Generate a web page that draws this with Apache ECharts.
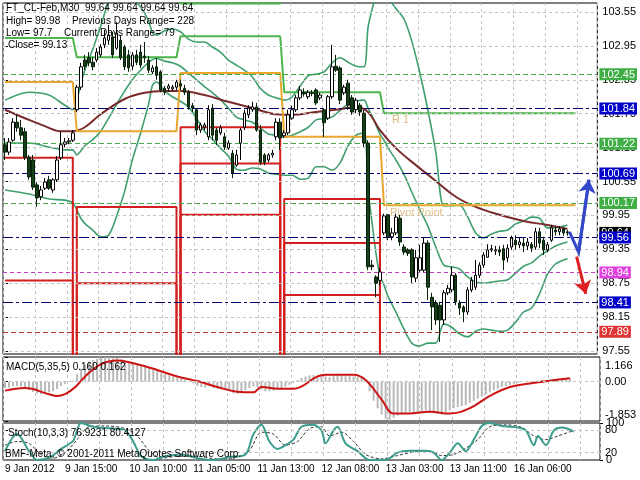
<!DOCTYPE html>
<html><head><meta charset="utf-8">
<script src="https://cdn.jsdelivr.net/npm/echarts@6/dist/echarts.min.js"></script>
<style>html,body{margin:0;padding:0;background:#fff}#c{width:640px;height:480px}</style>
</head><body><div id="c"></div>
<script>
// ---- data ----
const timeLabels = ['9 Jan 2012','9 Jan 15:00','10 Jan 10:00','11 Jan 05:00','11 Jan 13:00','12 Jan 08:00','13 Jan 03:00','13 Jan 11:00','16 Jan 06:00'];
const timeLabelBars = [0,15,31,47,63,79,95,111,127];
const priceTicks = [97.55,98.15,98.75,99.35,99.95,100.55,101.15,101.75,102.35,102.95,103.55];
// [open, close, low, high]
const candles = [
[101.20,101.07,100.93,101.32],[101.07,101.25,101.02,101.32],[101.28,101.60,101.25,101.67],[101.60,101.50,101.43,101.73],[101.50,101.37,101.28,101.64],
[101.43,100.98,100.93,101.50],[100.98,100.63,100.58,101.02],[100.93,100.45,100.40,101.02],[100.49,100.26,100.10,100.54],[100.28,100.40,100.22,100.47],
[100.43,100.54,100.40,100.61],[100.58,100.43,100.40,100.65],[100.40,100.58,100.35,100.61],[100.58,100.93,100.54,101.00],[100.97,101.20,100.93,101.43],
[101.21,101.25,101.16,101.32],[101.25,101.27,101.21,101.32],[101.28,101.41,101.25,101.46],[101.82,102.22,101.78,102.26],[102.22,102.58,102.17,102.65],
[102.70,102.59,102.52,102.79],[102.74,102.65,102.59,102.84],[102.66,102.58,102.52,102.75],[102.70,102.84,102.66,102.91],[102.79,102.93,102.75,102.98],
[102.97,103.09,102.91,103.23],[103.05,103.14,102.97,103.32],[103.11,102.79,102.74,103.20],[102.91,103.18,102.88,103.37],[103.05,102.74,102.70,103.14],
[102.93,102.58,102.52,102.97],[102.79,102.56,102.49,102.88],[102.59,102.79,102.52,102.84],[102.79,102.66,102.61,102.88],[102.84,102.61,102.56,102.97],
[102.77,102.74,102.65,103.02],[102.70,102.52,102.47,102.77],[102.49,102.56,102.45,102.61],[102.58,102.43,102.35,102.74],[102.49,102.17,102.13,102.52],
[102.20,102.13,102.08,102.24],[102.20,102.24,102.13,102.28],[102.19,102.22,102.15,102.26],[102.22,102.31,102.17,102.35],[102.28,102.24,102.17,102.35],
[102.20,102.13,102.08,102.26],[102.13,101.87,101.82,102.17],[101.89,101.85,101.78,101.94],[101.82,101.46,101.37,101.85],[101.46,101.55,101.41,101.59],
[101.51,101.55,101.46,101.59],[101.34,101.82,101.28,101.90],[101.85,101.37,101.28,101.92],[101.46,101.28,101.20,101.50],[101.41,101.50,101.37,101.55],
[101.34,101.16,101.11,101.41],[101.14,101.23,101.11,101.28],[101.05,100.70,100.61,101.11],[100.84,101.02,100.81,101.11],[101.23,101.46,100.93,101.50],
[101.51,101.76,101.46,101.82],[101.73,101.85,101.67,101.90],[101.82,101.87,101.78,101.96],[101.87,101.46,101.43,101.94],[101.46,100.89,100.84,101.55],
[101.02,100.89,100.84,101.05],[100.93,101.02,100.89,101.05],[101.02,101.05,100.97,101.11],[101.34,101.60,101.28,101.67],[101.60,101.32,101.11,101.67],
[101.36,101.41,101.32,101.46],[101.41,101.73,101.37,101.82],[101.67,101.82,101.64,101.89],[101.82,102.03,101.78,102.08],[102.03,102.17,101.99,102.24],
[102.13,102.10,102.05,102.20],[102.05,102.13,102.01,102.17],[102.12,102.11,102.06,102.17],[102.17,101.94,101.90,102.20],[102.03,102.08,101.99,102.12],
[101.82,101.59,101.34,101.85],[101.67,102.05,101.64,102.08],[102.05,102.58,102.01,102.97],[102.59,102.52,102.49,102.79],[102.56,101.99,101.92,102.59],
[102.12,102.22,102.08,102.26],[102.29,101.90,101.82,102.35],[102.03,101.78,101.73,102.08],[101.82,101.99,101.76,102.03],[101.90,101.78,101.71,101.94],
[101.76,101.23,101.16,101.82],[101.23,99.04,98.98,101.28],[99.07,99.04,98.98,99.16],[98.86,98.75,98.50,98.89],[98.80,98.95,98.72,99.02],
[99.64,99.94,99.60,99.98],[99.96,99.57,99.51,99.97],[99.57,99.64,99.51,99.73],[99.64,99.92,99.60,99.98],[99.90,99.48,99.41,99.96],
[99.39,99.30,99.25,99.44],[99.34,99.28,99.23,99.37],[99.34,98.86,98.75,99.37],[98.84,99.20,98.77,99.34],[98.98,99.20,98.95,99.43],
[98.98,99.46,98.95,99.55],[99.46,98.68,98.45,99.51],[98.50,98.33,97.92,98.58],[98.40,98.10,98.01,98.45],[98.36,98.10,97.71,98.42],
[98.10,98.58,98.01,98.63],[98.58,98.66,98.54,98.72],[98.63,98.89,98.59,99.04],[98.89,98.42,98.36,98.93],[98.40,98.31,98.19,98.45],
[98.33,98.24,98.06,98.36],[98.24,98.63,98.19,98.68],[98.63,98.80,98.59,98.86],[98.68,98.89,98.63,99.16],[98.89,99.07,98.84,99.12],
[99.07,99.25,99.02,99.30],[99.21,99.34,99.20,99.44],[99.34,99.36,99.30,99.43],[99.32,99.34,99.25,99.41],[99.34,99.30,99.23,99.41],
[99.36,99.16,98.98,99.43],[99.20,99.37,99.12,99.44],[99.39,99.55,99.34,99.59],[99.51,99.43,99.34,99.60],[99.43,99.48,99.37,99.55],
[99.46,99.41,99.30,99.55],[99.41,99.48,99.34,99.55],[99.44,99.37,99.30,99.48],[99.39,99.66,99.34,99.73],[99.66,99.46,99.37,99.73],
[99.51,99.34,99.25,99.57],[99.34,99.43,99.30,99.48],[99.51,99.73,99.48,99.78],[99.69,99.66,99.59,99.76],[99.66,99.71,99.60,99.76],
[99.71,99.64,99.59,99.74],[99.66,99.64,99.59,99.69]
];
const maLine = [[0,101.82],[5,101.67],[10,101.53],[14,101.44],[17,101.44],[20,101.51],[24,101.74],[30,102.01],[35,102.12],[40,102.15],[44,102.15],[50,102.08],[56,101.96],[62,101.85],[68,101.74],[72,101.73],[78,101.78],[84,101.83],[88,101.87],[91,101.78],[94,101.46],[98,101.14],[103,100.84],[108,100.56],[113,100.28],[118,100.10],[124,99.96],[130,99.85],[136,99.78],[141,99.71]];
const bbUpper = [[0,101.99],[6,102.13],[11,102.08],[15,101.90],[17,101.82],[18,101.99],[19,102.28],[20,102.52],[22,102.89],[24,103.30],[26,103.73],[28,103.92],[30,103.92],[32,103.78],[34,103.64],[36,103.39],[37,103.18],[38,103.14],[40,103.22],[42,103.25],[44,103.20],[46,103.07],[48,103.02],[50,103.02],[52,102.93],[54,102.84],[56,102.70],[58,102.61],[60,102.52],[62,102.40],[64,102.20],[66,102.08],[68,102.03],[70,101.99],[72,102.05],[74,102.24],[76,102.42],[78,102.45],[80,102.49],[82,102.65],[84,102.74],[86,102.66],[88,102.59],[90,102.58],[91,103.27],[92,103.59],[93,103.82],[94,103.90],[95,103.85],[96,103.80],[98,103.61],[100,103.43],[102,103.03],[104,102.47],[106,101.82],[108,101.07],[110,100.12],[112,100.12],[114,100.13],[116,99.92],[118,99.64],[120,99.55],[122,99.62],[124,99.67],[126,99.69],[128,99.80],[130,99.85],[132,99.92],[134,99.90],[136,99.73],[138,99.73],[140,99.76],[141,99.78]];
const bbMiddle = [[0,101.23],[6,101.23],[11,101.16],[15,101.11],[17,101.11],[18,101.02],[19,101.09],[20,101.18],[22,101.29],[24,101.44],[26,101.67],[28,101.92],[30,102.15],[32,102.36],[34,102.52],[36,102.66],[38,102.73],[40,102.68],[42,102.65],[44,102.59],[46,102.47],[48,102.35],[50,102.23],[52,102.12],[54,102.00],[56,101.85],[58,101.69],[60,101.64],[62,101.60],[64,101.50],[66,101.39],[68,101.37],[70,101.34],[72,101.37],[74,101.43],[76,101.51],[78,101.64],[80,101.66],[82,101.69],[84,101.81],[86,101.92],[88,101.97],[90,101.99],[91,101.85],[92,101.71],[93,101.55],[94,101.39],[95,101.28],[96,101.15],[98,100.93],[100,100.68],[102,100.36],[104,100.05],[106,99.76],[108,99.39],[110,99.07],[112,99.04],[114,99.00],[116,98.86],[118,98.77],[120,98.75],[122,98.77],[124,98.79],[126,98.81],[128,98.93],[130,99.05],[132,99.11],[134,99.23],[136,99.32],[138,99.41],[140,99.46],[141,99.48]];
const bbLower = [[0,100.40],[6,100.33],[11,100.24],[15,100.22],[17,100.17],[18,100.05],[19,99.90],[20,99.81],[22,99.69],[24,99.57],[26,99.60],[28,99.94],[30,100.38],[32,100.95],[34,101.41],[36,101.92],[37,102.26],[38,102.31],[40,102.15],[42,102.05],[44,101.97],[46,101.87],[48,101.67],[50,101.44],[52,101.30],[54,101.14],[56,101.00],[58,100.77],[60,100.75],[62,100.79],[64,100.77],[66,100.70],[68,100.68],[70,100.66],[72,100.66],[74,100.59],[76,100.61],[78,100.81],[80,100.81],[82,100.75],[84,100.88],[86,101.18],[88,101.37],[90,101.41],[91,100.43],[92,99.83],[93,99.28],[94,98.88],[95,98.72],[96,98.52],[98,98.24],[100,97.94],[102,97.69],[104,97.64],[106,97.69],[108,97.69],[110,98.03],[112,97.97],[114,97.85],[116,97.80],[118,97.90],[120,97.94],[122,97.92],[124,97.90],[126,97.92],[128,98.06],[130,98.24],[132,98.31],[134,98.56],[136,98.91],[138,99.09],[140,99.16],[141,99.18]];
const pivotDayStart = [0,18,44,70,95];
const pivotLastBar = 143;
const levelR2 = [104.40,104.40,103.70,104.80,104.80];
const levelR1 = [103.09,102.75,103.12,102.13,101.76];
const levelP  = [102.31,101.44,102.47,101.34,100.13];
const levelS1 = [100.97,100.10,101.51,100.24,97.00];
const levelS2 = [98.80,98.75,100.87,99.46,96.00];
const levelS3 = [96.50,96.80,99.96,98.54,95.00];
const lineLevels = [102.45,101.84,101.22,100.69,100.17,99.64,99.56,98.94,98.41,97.89];
const lineKinds  = ['g','b','g','b','g','k','b','m','b','r'];
const blueArrowPath = [[141.5,99.66],[143.8,99.30],[146.4,100.58]];
const redArrowPath = [[143.3,99.22],[145.6,98.56]];
const macdHist = [
-0.30,-0.28,-0.22,-0.20,-0.22,-0.30,-0.40,-0.48,-0.55,-0.58,
-0.55,-0.50,-0.45,-0.35,-0.20,-0.10,-0.02,0.05,0.35,0.60,
0.80,0.95,1.02,1.08,1.12,1.16,1.15,1.10,1.12,1.05,
0.98,0.92,0.88,0.82,0.78,0.72,0.65,0.58,0.52,0.42,
0.35,0.30,0.25,0.20,0.15,0.10,0.02,-0.08,-0.20,-0.25,
-0.28,-0.22,-0.30,-0.32,-0.35,-0.40,-0.45,-0.55,-0.58,-0.50,
-0.40,-0.30,-0.22,-0.25,-0.38,-0.45,-0.45,-0.42,-0.30,-0.32,
-0.25,-0.15,-0.05,0.08,0.18,0.25,0.30,0.32,0.30,0.28,
0.25,0.22,0.35,0.38,0.35,0.30,0.28,0.25,0.22,0.20,
0.10,-0.45,-0.90,-1.25,-1.55,-1.75,-1.85,-1.70,-1.60,-1.55,
-1.50,-1.45,-1.50,-1.45,-1.40,-1.35,-1.40,-1.45,-1.50,-1.55,
-1.45,-1.35,-1.25,-1.20,-1.15,-1.10,-1.00,-0.90,-0.80,-0.70,
-0.60,-0.50,-0.40,-0.32,-0.25,-0.20,-0.15,-0.10,-0.06,-0.02,
0.00,0.02,0.03,0.06,0.08,0.08,0.10,0.12,0.14,0.15,
0.16,0.16];
const macdSignal = [[0,-0.42],[5,-0.30],[11,-0.59],[13,-0.67],[17,-0.34],[20,0.25],[24,0.83],[28,1.0],[31,0.92],[36,0.67],[43,0.25],[48,0.03],[53,-0.25],[58,-0.47],[62,-0.5],[64,-0.25],[68,-0.33],[72,-0.33],[78,0.25],[80,0.33],[87,0.33],[90,0.08],[94,-0.84],[97,-1.5],[100,-1.5],[106,-1.42],[111,-1.5],[116,-1.25],[121,-0.67],[126,-0.25],[131,-0.08],[141,0.16]];
const macdTicks = [-1.853,0,1.166];
const stochMain = [[0,24],[3,70],[6,24],[8,0],[11,6],[14,30],[17,52],[19,100],[22,90],[27,85],[30,80],[32,50],[34,10],[37,0],[40,10],[44,15],[48,5],[52,0],[56,8],[60,15],[62,70],[64,95],[66,50],[68,30],[70,40],[72,55],[74,90],[77,95],[79,80],[80,45],[82,80],[83,90],[85,45],[88,24],[91,0],[95,0],[98,20],[101,25],[105,25],[107,20],[109,0],[111,20],[113,45],[115,24],[117,55],[119,92],[121,100],[124,92],[128,88],[130,80],[132,40],[133,65],[135,40],[137,80],[139,88],[142,77]];
const stochSignal = [[0,40],[3,50],[6,45],[9,15],[12,5],[15,20],[18,55],[21,90],[25,92],[30,85],[33,65],[36,25],[39,5],[43,10],[48,10],[53,3],[58,8],[61,25],[64,75],[67,70],[70,40],[73,50],[76,85],[79,90],[81,65],[84,75],[87,50],[90,15],[94,3],[98,12],[102,22],[106,24],[109,12],[112,15],[115,32],[118,55],[121,90],[125,95],[129,88],[132,65],[135,55],[138,65],[142,80]];
const stochLevelTicks = [20,80];
const stochEndTicks = [0,100];

// ---- build ----
const NCAT = 149;
const cats = Array.from({length: NCAT}, (_, i) => String(i));
const DROP = 90;
function stepPoints(levels, drop) {
  const pts = [];
  for (let d = 0; d < levels.length; d++) {
    const s = pivotDayStart[d];
    const last = d === levels.length - 1;
    const e = last ? pivotLastBar : pivotDayStart[d + 1] - 1;
    pts.push([s, levels[d]], [e, levels[d]]);
    if (drop && !last) pts.push([e, DROP], [pivotDayStart[d + 1], DROP]);
  }
  return pts;
}
const kindColor = {g:'#3fae45', b:'#0000c8', m:'#e040e0', r:'#e03535', k:'#000000'};
const kindLine = {
  g:{color:'#45a84a', type:[5,3], width:1},
  b:{color:'#00006e', type:[10,3,3,3], width:1},
  m:{color:'#c040c0', type:[4,3], width:1},
  r:{color:'#b83030', type:[5,3], width:1}
};
const rich = {};
Object.keys(kindColor).forEach(k => { rich[k] = {backgroundColor: kindColor[k], color:'#fff', fontSize:11, padding:[1,2,0,2], fontFamily:'Liberation Sans'}; });
function nearestIdx(arr, v) { let b = 0; arr.forEach((x, i) => { if (Math.abs(x - v) < Math.abs(arr[b] - v)) b = i; }); return b; }

const gridLine = {color:'#c4c4c4', type:[3,3], width:1};
const FONT = 'Liberation Sans';
const catAxis = (g) => ({type:'category', gridIndex:g, position:'bottom', data:cats, boundaryGap:true, axisLine:{show:false}, axisTick:{show:false}, axisLabel:{show:false}, splitLine:{show:true, interval:7, lineStyle:gridLine}});
const valAxis = (g) => ({type:'value', gridIndex:g, position:'bottom', min:-0.5, max:NCAT-0.5, show:false});
const lineSeg = (path) => [path[path.length - 2], path[path.length - 1]];
const stochAxis = (ticks, ofs) => ({type:'value', gridIndex:2, position:'right', min:0, max:100, axisLine:{show:false}, splitLine:{show:false},
  axisTick:{show:true, customValues:ticks, length:3, lineStyle:{color:'#000'}},
  axisLabel:{customValues:ticks, fontSize:11, color:'#000', margin:5 + ofs, fontFamily:FONT, showMinLabel:true, showMaxLabel:true, formatter:(v)=>String(Math.round(v))}});

const option = {
  animation:false,
  backgroundColor:'#fff',
  textStyle:{fontFamily:FONT},
  grid:[
    {left:3, top:3, width:597, height:351, show:true, borderColor:'#000', borderWidth:1},
    {left:3, top:357, width:597, height:64, show:true, borderColor:'#000', borderWidth:1},
    {left:3, top:423, width:597, height:37, show:true, borderColor:'#000', borderWidth:1}
  ],
  xAxis:[
    catAxis(0), valAxis(0), catAxis(1), valAxis(1), catAxis(2),
    {type:'value', gridIndex:2, position:'bottom', min:-0.5, max:NCAT-0.5, axisLine:{show:false}, axisTick:{show:false}, splitLine:{show:false},
     axisLabel:{customValues:timeLabelBars, align:'left', margin:4, fontSize:10, color:'#000', fontFamily:FONT,
       formatter:(v)=> timeLabels[nearestIdx(timeLabelBars, v)]}}
  ],
  yAxis:[
    {type:'value', gridIndex:0, position:'right', min:97.497, max:103.709, axisLine:{show:false}, splitLine:{show:false},
     axisTick:{show:true, customValues:priceTicks, length:3, lineStyle:{color:'#000'}},
     axisLabel:{customValues:priceTicks, formatter:(v)=>v.toFixed(2), fontSize:11, color:'#000', margin:5, fontFamily:FONT}},
    {type:'value', gridIndex:0, position:'right', min:97.497, max:103.709, axisLine:{show:false}, splitLine:{show:false}, axisTick:{show:false},
     axisLabel:{customValues:lineLevels, margin:2, formatter:(v)=>{const i = nearestIdx(lineLevels, v); return '{' + lineKinds[i] + '|' + lineLevels[i].toFixed(2) + '}';}, rich:rich}},
    {type:'value', gridIndex:1, position:'right', min:-1.853, max:1.166, axisLine:{show:false}, splitLine:{show:false},
     axisTick:{show:true, customValues:macdTicks, length:3, lineStyle:{color:'#000'}},
     axisLabel:{customValues:macdTicks, fontSize:11, color:'#000', margin:5, fontFamily:FONT, showMinLabel:true, showMaxLabel:true,
       formatter:(v)=>{ if (Math.abs(v) < 1e-6) return '0.00'; return v > 0 ? '{t|' + v.toFixed(3) + '}' : '{btm|' + v.toFixed(3) + '}'; },
       rich:{t:{padding:[18,0,0,0], fontSize:11}, btm:{padding:[0,0,12,0], fontSize:11}}}},
    stochAxis(stochLevelTicks, 0),
    stochAxis(stochEndTicks, 1)
  ],
  series:[
    {type:'line', xAxisIndex:1, yAxisIndex:0, data:[], z:1, silent:true,
     markLine:{silent:true, symbol:['none','none'], label:{show:false}, animation:false, lineStyle:gridLine,
       data: priceTicks.map(v => ({yAxis:v}))}},
    {type:'line', xAxisIndex:1, yAxisIndex:0, data:[], z:2, silent:true,
     markLine:{silent:true, symbol:['none','none'], label:{show:false}, animation:false,
       data: lineLevels.map((v, i) => lineKinds[i] === 'k' ? null : ({yAxis:v, lineStyle:kindLine[lineKinds[i]]})).filter(Boolean)}},
    {type:'line', name:'bbU', xAxisIndex:1, yAxisIndex:0, data:bbUpper, smooth:0.3, symbol:'none', z:3, lineStyle:{color:'#3f9f6f', width:1.6}},
    {type:'line', name:'bbM', xAxisIndex:1, yAxisIndex:0, data:bbMiddle, smooth:0.3, symbol:'none', z:3, lineStyle:{color:'#3f9f6f', width:1.6}},
    {type:'line', name:'bbL', xAxisIndex:1, yAxisIndex:0, data:bbLower, smooth:0.3, symbol:'none', z:3, lineStyle:{color:'#3f9f6f', width:1.6}},
    {type:'line', name:'ma', xAxisIndex:1, yAxisIndex:0, data:maLine, smooth:0.4, symbol:'none', z:3, lineStyle:{color:'#7a2b2b', width:2}},
    {type:'line', xAxisIndex:1, yAxisIndex:0, data:stepPoints(levelR2,false), symbol:'none', z:4, lineStyle:{color:'#4cb54c', width:2}},
    {type:'line', xAxisIndex:1, yAxisIndex:0, data:stepPoints(levelR1,false), symbol:'none', z:4, lineStyle:{color:'#4cb54c', width:2}},
    {type:'line', xAxisIndex:1, yAxisIndex:0, data:stepPoints(levelP,false), symbol:'none', z:4, lineStyle:{color:'#e8a62c', width:2}},
    {type:'line', xAxisIndex:1, yAxisIndex:0, data:stepPoints(levelS1,true), symbol:'none', z:4, lineStyle:{color:'#d41f1f', width:2}},
    {type:'line', xAxisIndex:1, yAxisIndex:0, data:stepPoints(levelS2,true), symbol:'none', z:4, lineStyle:{color:'#d41f1f', width:2}},
    {type:'line', xAxisIndex:1, yAxisIndex:0, data:stepPoints(levelS3,true), symbol:'none', z:4, lineStyle:{color:'#d41f1f', width:2}},
    {type:'candlestick', xAxisIndex:0, yAxisIndex:0, data:candles, barWidth:3, z:6,
     itemStyle:{color:'#ffffff', color0:'#16401a', borderColor:'#000', borderColor0:'#0a1f0a', borderWidth:1}},
    {type:'lines', coordinateSystem:'cartesian2d', xAxisIndex:1, yAxisIndex:0, polyline:true, z:7,
     symbol:'none', lineStyle:{color:'#3447c8', width:3, opacity:1}, data:[{coords:blueArrowPath}]},
    {type:'lines', coordinateSystem:'cartesian2d', xAxisIndex:1, yAxisIndex:0, z:7,
     symbol:['none','arrow'], symbolSize:[9,13], lineStyle:{color:'#3447c8', width:3, opacity:1}, data:[{coords:lineSeg(blueArrowPath)}]},
    {type:'lines', coordinateSystem:'cartesian2d', xAxisIndex:1, yAxisIndex:0, z:7,
     symbol:['none','arrow'], symbolSize:[9,13], lineStyle:{color:'#e02020', width:3, opacity:1}, data:[{coords:lineSeg(redArrowPath)}]},
    // MACD
    {type:'bar', xAxisIndex:2, yAxisIndex:2, data:macdHist, barWidth:2, itemStyle:{color:'#b9b9b9'}, z:2,
     markLine:{silent:true, symbol:['none','none'], label:{show:false}, animation:false, lineStyle:gridLine, data:[{yAxis:0}]}},
    {type:'line', xAxisIndex:3, yAxisIndex:2, data:macdSignal, smooth:0.4, symbol:'none', z:3, lineStyle:{color:'#cc1414', width:2}},
    // Stoch
    {type:'line', xAxisIndex:5, yAxisIndex:3, data:stochSignal, smooth:0.3, symbol:'none', z:3, lineStyle:{color:'#333', width:1, type:[3,2]},
     markLine:{silent:true, symbol:['none','none'], label:{show:false}, animation:false, lineStyle:gridLine, data:stochLevelTicks.map(v => ({yAxis:v}))}},
    {type:'line', xAxisIndex:5, yAxisIndex:3, data:stochMain, smooth:0.3, symbol:'none', z:4, lineStyle:{color:'#3c9c8c', width:2}}
  ],
  graphic:[
    {type:'text', left:6, top:3, style:{text:'FT_CL-Feb,M30  99.64 99.64 99.64 99.64', fontSize:10, fill:'#000', fontFamily:FONT}, z:100},
    {type:'text', left:6, top:16, style:{text:'High= 99.98', fontSize:10, fill:'#000', fontFamily:FONT}, z:100},
    {type:'text', left:72, top:16, style:{text:'Previous Days Range= 228', fontSize:10, fill:'#000', fontFamily:FONT}, z:100},
    {type:'text', left:6, top:28, style:{text:'Low= 97.7', fontSize:10, fill:'#000', fontFamily:FONT}, z:100},
    {type:'text', left:64, top:28, style:{text:'Current Days Range= 79', fontSize:10, fill:'#000', fontFamily:FONT}, z:100},
    {type:'text', left:8, top:40, style:{text:'Close= 99.13', fontSize:10, fill:'#000', fontFamily:FONT}, z:100},
    {type:'text', left:392, top:114, style:{text:'R 1', fontSize:11, fill:'#e0b878', fontFamily:FONT}, z:100},
    {type:'text', left:390, top:207, style:{text:'Pivot Point', fontSize:11, fill:'#e0c08a', fontFamily:FONT}, z:100},
    {type:'text', left:6, top:362, style:{text:'MACD(5,35,5) 0.160 0.162', fontSize:10, fill:'#000', fontFamily:FONT}, z:100},
    {type:'text', left:8, top:428, style:{text:'Stoch(10,3,3) 76.9231 80.4127', fontSize:10, fill:'#000', fontFamily:FONT}, z:100},
    {type:'text', left:5, top:449, style:{text:'BMF-Meta, \u00a9 2001-2011 MetaQuotes Software Corp.', fontSize:10, fill:'#000', fontFamily:FONT}, z:100}
  ]
};
const chart = echarts.init(document.getElementById('c'), null, {renderer:'canvas'});
chart.setOption(option);
</script></body></html>
